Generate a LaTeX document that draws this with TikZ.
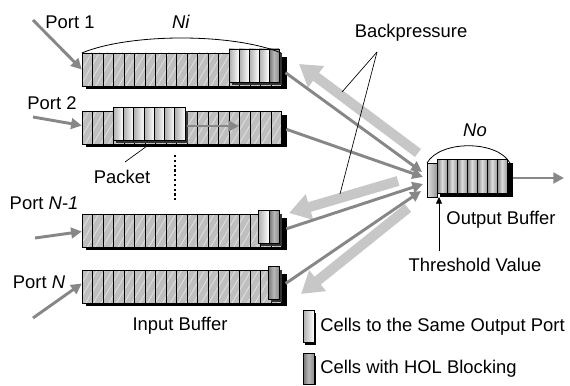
\documentclass[tikz,border=0pt]{standalone}
\usepackage{fontspec}
\setmainfont{Liberation Sans}
\usetikzlibrary{arrows.meta,calc,patterns.meta}

% one input buffer: name, top edge (px)
\newcommand\inbuffer[2]{%
  \node[bufnode] (#1) at (181.5,{#2+16.5}) {};
  \fill[black] (86,{#2+4}) rectangle (286.5,{#2+36});
  \foreach \i in {0,...,18}
    {\draw[hcell] ({82+\i*10.5},#2) rectangle ++(10.5,33);}
}
% one raised cell: style, left x, top of its buffer (px), width
\newcommand\upcell[4]{%
  \fill[black!80] ({#2+3},{#3}) rectangle ({#2+#4+3},{#3+32});
  \draw[#1] (#2,{#3-4}) rectangle ({#2+#4},{#3+29});
}

\begin{document}
\begin{tikzpicture}[x=0.75pt,y=-0.75pt,
  font=\fontsize{13.8pt}{16pt}\selectfont,
  bufnode/.style={rectangle,inner sep=0pt,outer sep=0pt,
    minimum width=149.6pt,minimum height=24.75pt},
  obnode/.style={rectangle,inner sep=0pt,outer sep=0pt,
    minimum width=62.25pt,minimum height=25.5pt},
  hcell/.style={draw=black,line width=0.6pt,preaction={fill=black!25},
    pattern={Lines[angle=60,distance=5pt,line width=0.7pt]},pattern color=black!13},
  samecell/.style={draw=black,line width=0.6pt,left color=black!32,right color=white},
  holcell/.style={draw=black,line width=0.6pt,left color=black!55,right color=black!45,middle color=black!28},
  outcell/.style={draw=black,line width=0.6pt,left color=black!50,right color=black!38,middle color=black!14},
  feed/.style={draw=black!47,line width=2.2pt,-{Triangle[length=8pt,width=8pt]}},
  backp/.style={draw=black!22,line width=7.5pt,-{Triangle[length=16pt,width=19pt]}},
  leader/.style={draw=black,line width=0.5pt},
  lbl/.style={inner sep=0pt,anchor=center}
]
\useasboundingbox (0,0) rectangle (570,385);

% ---------------- input buffers ----------------
\inbuffer{b1}{53}
\inbuffer{b2}{111}
\inbuffer{b3}{214}
\inbuffer{b4}{270}

% port 1: cells queued for the same output, head cell blocked
\foreach \i in {0,...,3} {\upcell{samecell}{229+\i*10}{53}{10}}
\upcell{holcell}{269}{53}{10}

% port 2: a packet moving forward
\foreach \i in {0,...,6} {\upcell{samecell}{113+\i*10.3}{111}{10.3}}
\coordinate (pk1) at (187,126);
\coordinate (pk2) at (239,126);
\draw[feed] (pk1) -- (pk2);

% port N-1 and port N head cells
\upcell{samecell}{258}{214}{11}
\upcell{holcell}{269}{214}{10}
\upcell{holcell}{268}{270}{11}

% capacity arc Ni
\draw[line width=0.6pt] (b1.north west) .. controls (130,33) and (233,33) .. (b1.north east);
\node[lbl] (ni) at (181,22) {\textit{Ni}};

% ---------------- output buffer ----------------
\node[obnode] (ob) at (468.5,180) {};
\draw[line width=0.6pt,left color=black!12,right color=black!40] (427,163) rectangle (437,197);
\fill[black] (440,163) rectangle (513,197);
\foreach \i in {0,...,6}
  {\draw[outcell] ({437+\i*10},159) rectangle ++(10,34);}
\draw[line width=0.6pt] (ob.north west) .. controls (440,140) and (497,140) .. (ob.north east);
\node[lbl] (no) at (475,130) {\textit{No}};

% ---------------- backpressure ----------------
\coordinate (bp1s) at (418,153); \coordinate (bp1e) at (299,64);
\coordinate (bp2s) at (398,181); \coordinate (bp2e) at (289,213);
\coordinate (bp3s) at (408,208); \coordinate (bp3e) at (301,294);
\draw[backp] (bp1s) -- (bp1e);
\draw[backp] (bp2s) -- (bp2e);
\draw[backp] (bp3s) -- (bp3e);

% ---------------- cell flows ----------------
\coordinate (p1s) at (33,20);
\coordinate (p2s) at (33,117);
\coordinate (p3s) at (35,238);
\coordinate (p4s) at (33,318);
\draw[feed] (p1s) -- (b1.west);
\draw[feed] (p2s) -- ($(b2.west)+(0,-2)$);
\draw[feed] (p3s) -- ($(b3.west)+(0,1)$);
\draw[feed] (p4s) -- ($(b4.west)+(0,-3)$);

\draw[feed,shorten <=4pt] (b1.east) -- ($(ob.west)+(-5,-8)$);
\draw[feed,shorten <=4pt] (b2.east) -- ($(ob.west)+(-4,-3)$);
\draw[feed,shorten <=4pt] (b3.east) -- ($(ob.west)+(-4,4)$);
\draw[feed,shorten <=4pt] (b4.east) -- ($(ob.west)+(-6,11)$);

\coordinate (outend) at (564,178);
\draw[feed] ($(ob.east)+(3,-2)$) -- (outend);

% ---------------- labels ----------------
\node[lbl] (lp1) at (70,22) {Port 1};
\node[lbl] (lp2) at (52,103) {Port 2};
\node[lbl] (lp3) at (44,203) {Port \textit{N-1}};
\node[lbl] (lp4) at (39,282) {Port \textit{N}};
\node[lbl] (inb) at (180,326) {Input Buffer};
\node[lbl] (pkt) at (122,177) {Packet};
\coordinate (pkl1) at (125,162);
\coordinate (pkl2) at (147,146);
\draw[leader] (pkl1) -- (pkl2);

\coordinate (dot1) at (175,155);
\coordinate (dot2) at (175,201);
\draw[line width=1.6pt,dash pattern=on 1.6pt off 2pt] (dot1) -- (dot2);

\node[lbl] (bpt) at (411,33) {Backpressure};
\coordinate (bpl) at (377,52);
\coordinate (bpa) at (342,92);
\coordinate (bpb) at (340,194);
\draw[leader] (bpl) -- (bpa);
\draw[leader] (bpl) -- (bpb);

\node[lbl] (obt) at (501,220) {Output Buffer};
\node[lbl] (thv) at (475,265) {Threshold Value};
\coordinate (thtip) at (439,197);
\draw[line width=0.6pt,-{Triangle[length=5pt,width=4.5pt]}] (439,251) -- (thtip);

% ---------------- legend ----------------
\fill[black] (305,313) rectangle (316,345);
\draw[samecell] (303,310) rectangle (314,342);
\node[lbl,anchor=west] (lg1) at (320,327) {Cells to the Same Output Port};
\fill[black] (305,356) rectangle (316,385);
\draw[holcell] (303,353) rectangle (314,384);
\node[lbl,anchor=west] (lg2) at (320,369) {Cells with HOL Blocking};
\end{tikzpicture}
\end{document}
